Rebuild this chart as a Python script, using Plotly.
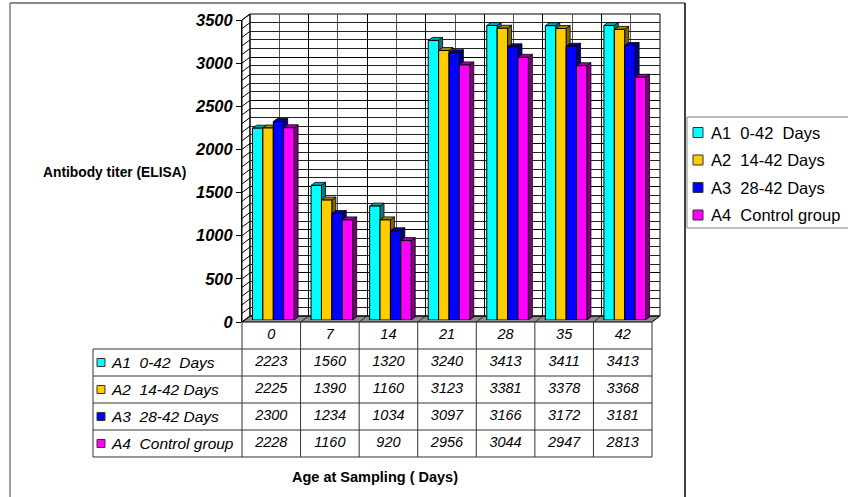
import plotly.graph_objects as go

# ---- data ----
categories = ["0", "7", "14", "21", "28", "35", "42"]
series_names = ["A1\u00a0 0-42\u00a0 Days", "A2\u00a0 14-42 Days", "A3\u00a0 28-42 Days", "A4\u00a0 Control group"]
a1_values = [2223, 1560, 1320, 3240, 3413, 3411, 3413]
a2_values = [2225, 1390, 1160, 3123, 3381, 3378, 3368]
a3_values = [2300, 1234, 1034, 3097, 3166, 3172, 3181]
a4_values = [2228, 1160, 920, 2956, 3044, 2947, 2813]
series_values = [a1_values, a2_values, a3_values, a4_values]
y_ticks = [0, 500, 1000, 1500, 2000, 2500, 3000, 3500]

face_colors = ["#00FFFF", "#FFCC00", "#0000FF", "#FF00FF"]
top_colors = ["#00A6A6", "#A68500", "#0000A6", "#A600A6"]
side_colors = ["#007F7F", "#7F6600", "#00007F", "#7F007F"]

# ---- geometry (pixels) ----
W, H = 848, 497
FX0, FX1 = 242, 652          # front plane, category extent
FY0, FY1 = 322, 20           # front plane, value 0 and Y_MAX
Y_MAX = 3500
MINOR_STEP = 100
WALL_DX, WALL_DY = 8, -6     # depth of the back wall
BAR_DX, BAR_DY = 2, -2       # bar front faces
EXT_DX, EXT_DY = 4, -3       # bar extrusion
TABLE_LEFT, TABLE_BOTTOM = 93, 457
BARGAP = 0.29

n_cat = len(categories)
n_rows = len(series_values) + 1
cat_px = (FX1 - FX0) / n_cat
val_px = (FY0 - FY1) / Y_MAX
row_px = (TABLE_BOTTOM - FY0) / n_rows

FONT = "Liberation Sans, Arial, sans-serif"


def px(x):
    return x / W


def py(y):
    return 1 - y / H


def fy(v):
    return FY0 - v * val_px


fig = go.Figure()

# back wall subplot
fig.add_trace(go.Scatter(x=[None], y=[None], xaxis="x", yaxis="y",
                         showlegend=False, hoverinfo="skip"))

# columns
for name, vals, col in zip(series_names, series_values, face_colors):
    fig.add_trace(go.Bar(
        x=list(range(n_cat)), y=vals, name=name,
        marker=dict(color=col, line=dict(color="black", width=1)),
        xaxis="x2", yaxis="y2", showlegend=False, hoverinfo="skip"))

# data table text
TABLE_FONT = dict(family=FONT, size=14.5, style="italic", color="black")
fig.add_trace(go.Scatter(
    x=list(range(n_cat)), y=[0] * n_cat, text=categories, mode="text",
    textfont=TABLE_FONT, xaxis="x3", yaxis="y3", cliponaxis=False,
    showlegend=False, hoverinfo="skip"))
for r, vals in enumerate(series_values):
    fig.add_trace(go.Scatter(
        x=list(range(n_cat)), y=[r + 1] * n_cat, text=[str(v) for v in vals],
        mode="text", textfont=TABLE_FONT,
        xaxis="x3", yaxis="y3", cliponaxis=False, showlegend=False, hoverinfo="skip"))

# front value axis
fig.add_trace(go.Scatter(x=[None], y=[None], xaxis="x4", yaxis="y4",
                         showlegend=False, hoverinfo="skip"))

shapes = []


def pline(x0, y0, x1, y1, color="black", width=1, layer="above"):
    shapes.append(dict(type="line", xref="paper", yref="paper",
                       x0=px(x0), y0=py(y0), x1=px(x1), y1=py(y1),
                       line=dict(color=color, width=width), layer=layer))


def ppoly(pts, fill, color="black", width=1, layer="below"):
    d = "M " + " L ".join(f"{px(x):.5f},{py(y):.5f}" for x, y in pts) + " Z"
    shapes.append(dict(type="path", xref="paper", yref="paper", path=d,
                       fillcolor=fill, line=dict(color=color, width=width), layer=layer))


# floor
ppoly([(FX0, FY0), (FX1, FY0), (FX1 + WALL_DX, FY0 + WALL_DY), (FX0 + WALL_DX, FY0 + WALL_DY)],
      "#8C8C8C", "black", 1)
for j in range(n_cat + 1):
    x = FX0 + j * cat_px
    pline(x, FY0, x + WALL_DX, FY0 + WALL_DY, "#303030", 1, "below")

# side wall with its gridlines
ppoly([(FX0, FY0), (FX0 + WALL_DX, FY0 + WALL_DY), (FX0 + WALL_DX, FY1 + WALL_DY), (FX0, FY1)],
      "white", "black", 1)
for v in range(0, Y_MAX + 1, MINOR_STEP):
    pline(FX0, fy(v), FX0 + WALL_DX, fy(v) + WALL_DY, "black", 1, "below")

# back wall frame
ppoly([(FX0 + WALL_DX, FY1 + WALL_DY), (FX1 + WALL_DX, FY1 + WALL_DY),
       (FX1 + WALL_DX, FY0 + WALL_DY), (FX0 + WALL_DX, FY0 + WALL_DY)],
      "rgba(0,0,0,0)", "black", 1)

# 3D faces of the columns
n_ser = len(series_values)
bw = (1 - BARGAP) / n_ser
ex = EXT_DX / cat_px
ey = -EXT_DY / val_px
side_shapes, top_shapes = [], []
for i, (vals, tc, sc) in enumerate(zip(series_values, top_colors, side_colors)):
    off = (i - (n_ser - 1) / 2) * bw
    for j, v in enumerate(vals):
        left = j + off - bw / 2
        right = j + off + bw / 2
        side_shapes.append(dict(
            type="path", xref="x2", yref="y2", layer="between", fillcolor=sc,
            line=dict(color="black", width=0.8),
            path=f"M {right},0 L {right + ex},{ey} L {right + ex},{v + ey} L {right},{v} Z"))
        top_shapes.append(dict(
            type="path", xref="x2", yref="y2", layer="between", fillcolor=tc,
            line=dict(color="black", width=0.8),
            path=f"M {left},{v} L {left + ex},{v + ey} L {right + ex},{v + ey} L {right},{v} Z"))
shapes += side_shapes + top_shapes

# data table grid
row_y = [FY0 + k * row_px for k in range(n_rows + 1)]
for k in range(1, n_rows + 1):
    pline(TABLE_LEFT, row_y[k], FX1, row_y[k], "#333333", 1)
pline(TABLE_LEFT, row_y[1], TABLE_LEFT, TABLE_BOTTOM, "#333333", 1)
for j in range(n_cat + 1):
    x = FX0 + j * cat_px
    pline(x, FY0, x, TABLE_BOTTOM, "#333333", 1)

annotations = []
# row labels with colour keys
for r, (name, col) in enumerate(zip(series_names, face_colors)):
    yc = FY0 + (r + 1.5) * row_px
    ppoly([(97, yc - 4), (105, yc - 4), (105, yc + 4), (97, yc + 4)], col, "#333333", 1, "above")
    annotations.append(dict(xref="paper", yref="paper", x=px(109), y=py(yc),
                            xanchor="left", yanchor="middle", showarrow=False, text=name,
                            font=dict(family=FONT, size=15.5, style="italic", color="black")))

# legend
LEG_X, LEG_Y0, LEG_Y1, LEG_STEP = 687, 117, 228, 27.5
ppoly([(LEG_X, LEG_Y0), (W + 4, LEG_Y0), (W + 4, LEG_Y1), (LEG_X, LEG_Y1)],
      "white", "#808080", 1, "above")
for r, (name, col) in enumerate(zip(series_names, face_colors)):
    yc = LEG_Y0 + 15.5 + r * LEG_STEP
    ppoly([(693, yc - 5), (703, yc - 5), (703, yc + 5), (693, yc + 5)], col, "#333333", 1, "above")
    annotations.append(dict(xref="paper", yref="paper", x=px(709), y=py(yc),
                            xanchor="left", yanchor="middle", showarrow=False, text=name,
                            font=dict(family=FONT, size=16.5, color="black")))

# outer frame
pline(10, 3, 10, H + 2, "#404040", 1)
pline(10, 3, 685, 3, "#8A8A8A", 2)
pline(685, 3, 685, H + 2, "black", 1.5)

# axis titles
annotations.append(dict(xref="paper", yref="paper", x=px(114), y=py(172), showarrow=False,
                        text="Antibody titer (ELISA)", xanchor="center", yanchor="middle",
                        font=dict(family=FONT, size=13.8, weight="bold", color="black")))
annotations.append(dict(xref="paper", yref="paper", x=px(375), y=py(477), showarrow=False,
                        text="Age at Sampling ( Days)", xanchor="center", yanchor="middle",
                        font=dict(family=FONT, size=14.5, weight="bold", color="black")))

hidden = dict(visible=False, fixedrange=True)
fig.update_layout(
    width=W, height=H,
    margin=dict(l=0, r=0, t=0, b=0, autoexpand=False),
    paper_bgcolor="white", plot_bgcolor="rgba(0,0,0,0)",
    barmode="group", bargap=BARGAP, bargroupgap=0,
    showlegend=False,
    xaxis=dict(domain=[px(FX0 + WALL_DX), px(FX1 + WALL_DX)], range=[-0.5, n_cat - 0.5],
               anchor="y", tickmode="linear", tick0=-0.5, dtick=1,
               showgrid=True, gridcolor="black", gridwidth=1,
               minor=dict(tickmode="linear", tick0=-0.5, dtick=0.5, showgrid=True, gridcolor="#555555"),
               showticklabels=False, ticks="", zeroline=False, showline=False, fixedrange=True),
    yaxis=dict(domain=[py(FY0 + WALL_DY), py(FY1 + WALL_DY)], range=[0, Y_MAX],
               anchor="x", tickmode="linear", tick0=0, dtick=500,
               showgrid=True, gridcolor="black", gridwidth=1,
               minor=dict(tickmode="linear", tick0=0, dtick=MINOR_STEP, showgrid=True, gridcolor="#222222"),
               showticklabels=False, ticks="", zeroline=False, showline=False, fixedrange=True),
    xaxis2=dict(domain=[px(FX0 + BAR_DX), px(FX1 + BAR_DX)], range=[-0.5, n_cat - 0.5],
                anchor="y2", **hidden),
    yaxis2=dict(domain=[py(FY0 + BAR_DY), py(FY1 + BAR_DY)], range=[0, Y_MAX],
                anchor="x2", **hidden),
    xaxis3=dict(domain=[px(FX0), px(FX1)], range=[-0.5, n_cat - 0.5], anchor="y3", **hidden),
    yaxis3=dict(domain=[py(TABLE_BOTTOM), py(FY0)], range=[n_rows - 0.5, -0.5], anchor="x3", **hidden),
    xaxis4=dict(domain=[px(FX0), px(FX1)], range=[-0.5, n_cat - 0.5], anchor="y4", **hidden),
    yaxis4=dict(domain=[py(FY0), py(FY1)], range=[0, Y_MAX], anchor="x4",
                tickmode="array", tickvals=y_ticks, ticktext=[str(t) for t in y_ticks],
                ticks="outside", ticklen=5, tickcolor="black", tickwidth=1,
                showline=True, linecolor="black", linewidth=1,
                showgrid=False, zeroline=False, fixedrange=True,
                tickfont=dict(family=FONT, size=16.5, weight="bold", style="italic", color="black")),
    shapes=shapes,
    annotations=annotations,
)

fig.write_html("out.html")
